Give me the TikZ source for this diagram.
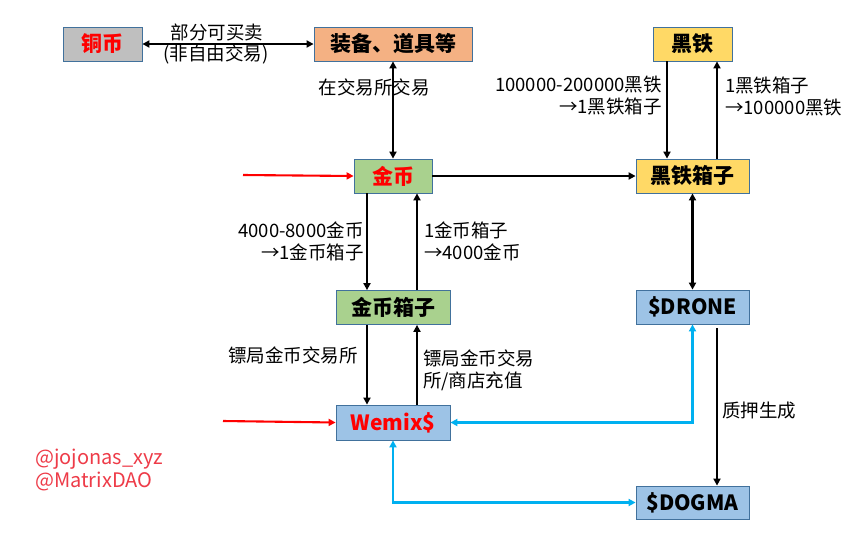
\documentclass[tikz,border=0pt]{standalone}
\usepackage{fontspec}
\setmainfont{Noto Sans CJK SC}
\usetikzlibrary{arrows.meta}
\definecolor{bord}{HTML}{41719C}
\definecolor{grayf}{HTML}{BFBFBF}
\definecolor{orangef}{HTML}{F4B183}
\definecolor{yellowf}{HTML}{FFD966}
\definecolor{greenf}{HTML}{A9D18E}
\definecolor{bluef}{HTML}{9DC3E6}
\definecolor{cyanl}{HTML}{00B0F0}
\definecolor{redt}{HTML}{FF0000}
\definecolor{tagc}{HTML}{EE3B48}
\begin{document}
\begin{tikzpicture}[x=1pt,y=-1pt,
  box/.style={draw=bord,line width=0.8pt,minimum height=34pt,inner sep=0pt,
    font=\fontsize{21}{21}\selectfont\bfseries},
  arr/.style={line width=2.1pt,-{Triangle[length=7pt,width=7pt]}},
  darr/.style={line width=2.1pt,{Triangle[length=7pt,width=7pt]}-{Triangle[length=7pt,width=7pt]}},
  carr/.style={line width=2.4pt,color=cyanl,{Triangle[length=7pt,width=7pt]}-{Triangle[length=7pt,width=7pt]}},
  rarr/.style={line width=2.1pt,color=redt,-{Triangle[length=7pt,width=7pt]}},
  lbl/.style={inner sep=0pt,font=\fontsize{18.5}{22}\selectfont},
  tag/.style={inner sep=0pt,anchor=west,text=tagc,font=\fontsize{20}{20}\selectfont}]
\useasboundingbox (0,0) rectangle (865,539);
\fill[white] (0,0) rectangle (865,539);

% nodes
\node[box,fill=grayf,minimum width=79pt,text=redt] (tb) at (102.5,44) {铜币};
\node[box,fill=orangef,minimum width=158pt] (zb) at (393,44) {装备、道具等};
\node[box,fill=yellowf,minimum width=79pt] (ht) at (692.5,44) {黑铁};
\node[box,fill=greenf,minimum width=78pt,text=redt] (jb) at (393,176) {金币};
\node[box,fill=yellowf,minimum width=113pt] (htx) at (692.5,176) {黑铁箱子};
\node[box,fill=greenf,minimum width=114pt] (jbx) at (393,307.5) {金币箱子};
\node[box,fill=bluef,minimum width=113pt] (dr) at (692.5,307) {\$DRONE};
\node[box,fill=bluef,minimum width=114pt,minimum height=35pt,text=redt] (wm) at (393,422.5) {Wemix\$};
\node[box,fill=bluef,minimum width=113pt,minimum height=33pt] (dg) at (692.5,502.5) {\$DOGMA};

% free ends
\coordinate (r1) at (243,175);
\coordinate (r2) at (223,421);

% connectors
\draw[darr] (tb.east) -- (zb.west);
\node[lbl] (l1) at (217,32) {部分可买卖};
\node[lbl] (l2) at (216,54) {(非自由交易)};

\node[lbl] (l3) at (374,87) {在交易所交易};
\draw[darr] (zb.south) -- (jb.north);

\draw[arr] (jb.east) -- (htx.west);
\draw[rarr] (r1) -- (jb.west);
\draw[rarr] (r2) -- (wm.west);

\draw[arr] ([xshift=-25.5pt]ht.south) -- ([xshift=-25.5pt]htx.north);
\draw[arr] ([xshift=24.5pt]htx.north) -- ([xshift=24.5pt]ht.south);
\node[lbl,anchor=east,align=right] (l4) at (662,96) {100000-200000黑铁\\→1黑铁箱子};
\node[lbl,anchor=west,align=left] (l5) at (725,96) {1黑铁箱子\\→100000黑铁};

\draw[arr] ([xshift=-26pt]jb.south) -- ([xshift=-26pt]jbx.north);
\draw[arr] ([xshift=24pt]jbx.north) -- ([xshift=24pt]jb.south);
\node[lbl,anchor=east,align=right] (l6) at (364,241) {4000-8000金币\\→1金币箱子};
\node[lbl,anchor=west,align=left] (l7) at (424,241) {1金币箱子\\→4000金币};

\draw[darr] (htx.south) -- (dr.north);

\draw[arr] ([xshift=-26pt]jbx.south) -- ([xshift=-26pt]wm.north);
\draw[arr] ([xshift=24pt]wm.north) -- ([xshift=24pt]jbx.south);
\node[lbl,anchor=east] (l8) at (358,355) {镖局金币交易所};
\node[lbl,anchor=west,align=left] (l9) at (423,370) {镖局金币交易\\所/商店充值};

\draw[carr] (wm.east) -| (dr.south);
\draw[carr] (wm.south) |- (dg.west);

\draw[arr] ([xshift=24.5pt,yshift=-4pt]dr.south) -- ([xshift=24.5pt]dg.north);
\node[lbl,anchor=west] (l10) at (722,411) {质押生成};

\node[tag] (t1) at (35,459) {@jojonas\_xyz};
\node[tag] (t2) at (35,481) {@MatrixDAO};
\end{tikzpicture}
\end{document}
